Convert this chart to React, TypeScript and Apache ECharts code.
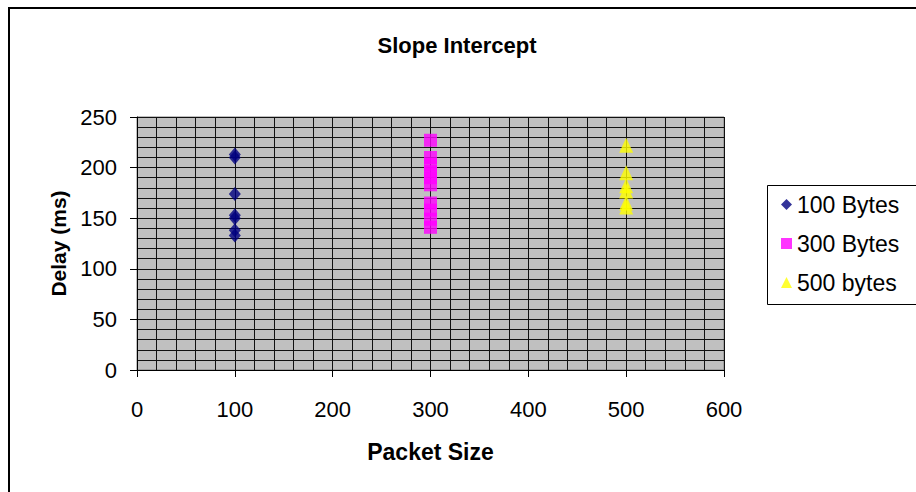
import React, { useEffect, useRef } from "react";
import * as echarts from "echarts";

const seriesNames = ["100 Bytes", "300 Bytes", "500 bytes"];
const packetSizes = [100, 300, 500];
const delays100 = [213, 210, 174, 153, 150, 138, 133];
const delays300 = [227, 210, 203, 196, 190, 183, 165, 158, 149, 141];
const delays500 = [222, 195, 182, 177, 165, 161];
const xTicks = [0, 100, 200, 300, 400, 500, 600];
const yTicks = [0, 50, 100, 150, 200, 250];

export default function App() {
  const ref = useRef<HTMLDivElement>(null);
  useEffect(() => {
    if (!ref.current) return;
    const chart = echarts.init(ref.current, undefined, { renderer: "svg" });
    const font = "Arial, 'Liberation Sans', sans-serif";
    const toPairs = (x: number, arr: number[]) => arr.map((v) => [x, v]);
    chart.setOption({
      animation: false,
      backgroundColor: "#ffffff",
      title: {
        text: "Slope Intercept",
        left: 452,
        top: 29,
        textAlign: "center",
        textStyle: { fontFamily: font, fontWeight: "bold", fontSize: 22, color: "#000" },
      },
      graphic: [
        {
          type: "rect",
          shape: { x: 9, y: 8, width: 1000, height: 1000 },
          style: { fill: "none", stroke: "#000", lineWidth: 2 },
          silent: true,
        },
        {
          type: "rect",
          shape: { x: 767.5, y: 185.5, width: 200, height: 119 },
          style: { fill: "none", stroke: "#000", lineWidth: 1 },
          silent: true,
        },
      ],
      legend: {
        orient: "vertical",
        left: 776,
        top: 188,
        itemGap: 16,
        itemWidth: 11,
        itemHeight: 11,
        textStyle: { fontFamily: font, fontSize: 23, color: "#000" },
        data: [
          { name: seriesNames[0], icon: "diamond" },
          { name: seriesNames[1], icon: "rect" },
          { name: seriesNames[2], icon: "triangle" },
        ],
      },
      grid: {
        left: 137,
        top: 117,
        width: 587,
        height: 253,
        show: true,
        backgroundColor: "#c0c0c0",
        borderColor: "#808080",
        borderWidth: 1,
      },
      xAxis: {
        type: "value",
        min: xTicks[0],
        max: xTicks[xTicks.length - 1],
        interval: 100,
        name: "Packet Size",
        nameLocation: "middle",
        nameGap: 70,
        nameTextStyle: { fontFamily: font, fontWeight: "bold", fontSize: 23, color: "#000" },
        axisLine: { show: true, lineStyle: { color: "#000", width: 1 } },
        axisTick: { show: true, inside: false, length: 7, lineStyle: { color: "#000" } },
        axisLabel: { margin: 28, fontFamily: font, fontSize: 22, color: "#000" },
        splitLine: { show: true, lineStyle: { color: "#111", width: 1 } },
        minorTick: { show: false, splitNumber: 5 },
        minorSplitLine: { show: true, lineStyle: { color: "#111", width: 1 } },
      },
      yAxis: {
        type: "value",
        min: yTicks[0],
        max: yTicks[yTicks.length - 1],
        interval: 50,
        name: "Delay (ms)",
        nameLocation: "middle",
        nameGap: 52,
        nameRotate: 90,
        nameTextStyle: { fontFamily: font, fontWeight: "bold", fontSize: 21, color: "#000" },
        axisLine: { show: true, lineStyle: { color: "#000", width: 1 } },
        axisTick: { show: true, inside: false, length: 7, lineStyle: { color: "#000" } },
        axisLabel: { margin: 20, fontFamily: font, fontSize: 22, color: "#000" },
        splitLine: { show: true, lineStyle: { color: "#111", width: 1 } },
        minorTick: { show: false, splitNumber: 5 },
        minorSplitLine: { show: true, lineStyle: { color: "#111", width: 1 } },
      },
      series: [
        {
          name: seriesNames[0],
          type: "scatter",
          symbol: "diamond",
          symbolSize: [12, 14],
          itemStyle: { color: "#000080" },
          data: toPairs(packetSizes[0], delays100),
        },
        {
          name: seriesNames[1],
          type: "scatter",
          symbol: "rect",
          symbolSize: 13,
          itemStyle: { color: "#ff00ff" },
          data: toPairs(packetSizes[1], delays300),
        },
        {
          name: seriesNames[2],
          type: "scatter",
          symbol: "triangle",
          symbolSize: [14, 15],
          itemStyle: { color: "#ffff00" },
          data: toPairs(packetSizes[2], delays500),
        },
      ],
    });
    return () => chart.dispose();
  }, []);
  return (
    <div
      ref={ref}
      style={{ position: "fixed", left: 0, top: 0, width: 916, height: 492 }}
    />
  );
}
